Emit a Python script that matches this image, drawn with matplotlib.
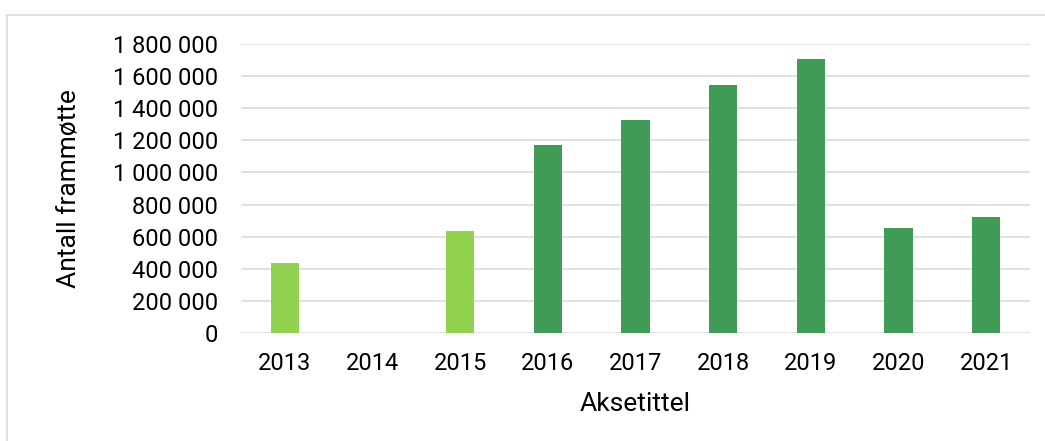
import matplotlib.pyplot as plt
import numpy as np
from matplotlib.patches import Rectangle
from matplotlib.ticker import FuncFormatter, MultipleLocator

plt.switch_backend("agg")

# data
years = ["2013", "2014", "2015", "2016", "2017", "2018", "2019", "2020", "2021"]
attendance = [437000, 0, 636000, 1171000, 1329000, 1547000, 1705000, 655000, 722000]
# the early years are drawn in a lighter green
early_years = ["2013", "2014", "2015"]

LIGHT = "#92D050"
DARK = "#3F9B56"
GRID = "#D9D9D9"

plt.rcParams["font.family"] = ["Roboto", "DejaVu Sans"]
plt.rcParams["font.size"] = 17

W, H = 1045, 441
fig = plt.figure(figsize=(W / 100, H / 100), dpi=100)

# light grey frame round the chart area
fig.patches.append(
    Rectangle((7 / W, -0.05), 1.2, 1 - 15 / H + 0.05, transform=fig.transFigure,
              fill=False, edgecolor=GRID, linewidth=1.1)
)

ax = fig.add_axes([241 / W, 108 / H, (1030 - 241) / W, (333 - 44) / H])

x = np.arange(len(years))
colors = [LIGHT if y in early_years else DARK for y in years]
ax.bar(x, attendance, width=0.32, color=colors, zorder=3)

ax.set_xlim(-0.5, len(years) - 0.5)
ax.set_ylim(0, 1800000)
ax.yaxis.set_major_locator(MultipleLocator(200000))
ax.yaxis.set_major_formatter(FuncFormatter(lambda v, p: f"{v:,.0f}".replace(",", " ")))
ax.set_xticks(x)
ax.set_xticklabels(years)

ax.grid(axis="y", color=GRID, linewidth=1.1, zorder=0)
ax.set_axisbelow(True)
for s in ax.spines.values():
    s.set_visible(False)
ax.tick_params(axis="both", length=0)
ax.tick_params(axis="y", pad=16.5)
ax.tick_params(axis="x", pad=14)

ax.set_xlabel("Aksetittel", fontsize=19, labelpad=12)
ax.set_ylabel("Antall frammøtte", fontsize=19, labelpad=22.5)

fig.savefig("out.png", dpi=100)
